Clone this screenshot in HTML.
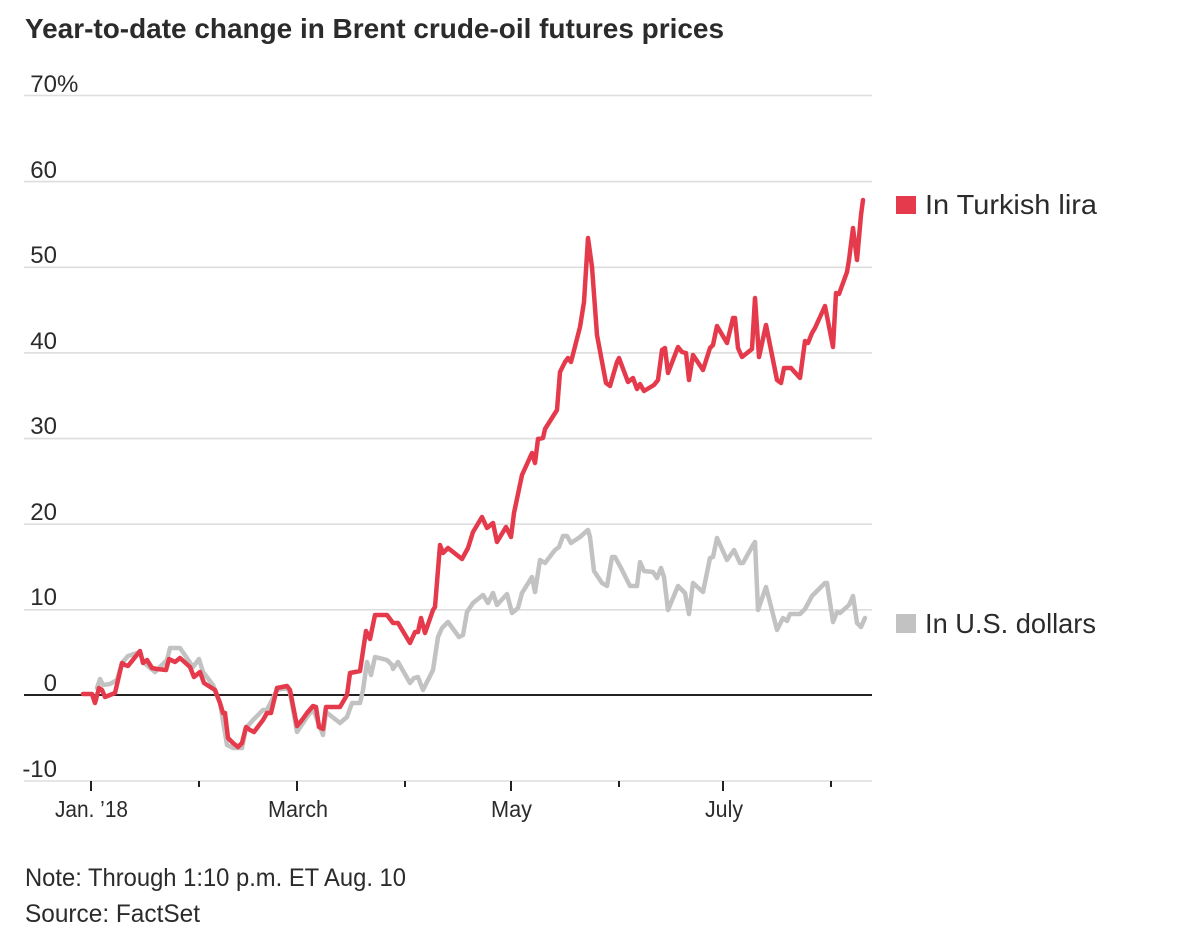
<!DOCTYPE html>
<html>
<head>
<meta charset="utf-8">
<style>
html,body{margin:0;padding:0;background:#fff;}
svg{display:block;}
text{font-family:"Liberation Sans",sans-serif;fill:#2b2b2b;}
</style>
</head>
<body>
<svg width="1180" height="930" viewBox="0 0 1180 930" xmlns="http://www.w3.org/2000/svg">
<rect width="1180" height="930" fill="#fff"/>
<text x="25" y="38" font-size="28" font-weight="bold" textLength="699" lengthAdjust="spacingAndGlyphs">Year-to-date change in Brent crude-oil futures prices</text>

<!-- gridlines -->
<g stroke="#dedede" stroke-width="1.6">
<line x1="24" y1="95.5" x2="872" y2="95.5"/>
<line x1="24" y1="181.6" x2="872" y2="181.6"/>
<line x1="24" y1="267.3" x2="872" y2="267.3"/>
<line x1="24" y1="352.9" x2="872" y2="352.9"/>
<line x1="24" y1="438.6" x2="872" y2="438.6"/>
<line x1="24" y1="524.2" x2="872" y2="524.2"/>
<line x1="24" y1="609.8" x2="872" y2="609.8"/>
<line x1="24" y1="781" x2="872" y2="781"/>
</g>
<line x1="24" y1="695" x2="872" y2="695" stroke="#222" stroke-width="2"/>

<!-- y labels -->
<g font-size="24" text-anchor="end">
<text x="57" y="92">70</text>
<text x="57" y="178">60</text>
<text x="57" y="263">50</text>
<text x="57" y="349">40</text>
<text x="57" y="434">30</text>
<text x="57" y="520">20</text>
<text x="57" y="605">10</text>
<text x="57" y="691">0</text>
<text x="57" y="777">-10</text>
</g>
<text x="57" y="92" font-size="24">%</text>

<!-- x ticks -->
<g stroke="#222" stroke-width="2">
<line x1="91" y1="781" x2="91" y2="791"/>
<line x1="199" y1="781" x2="199" y2="787"/>
<line x1="297" y1="781" x2="297" y2="791"/>
<line x1="405" y1="781" x2="405" y2="787"/>
<line x1="511" y1="781" x2="511" y2="791"/>
<line x1="619" y1="781" x2="619" y2="787"/>
<line x1="723" y1="781" x2="723" y2="791"/>
<line x1="831" y1="781" x2="831" y2="787"/>
</g>
<g font-size="23" text-anchor="middle">
<text x="91.5" y="817" textLength="73" lengthAdjust="spacingAndGlyphs">Jan. ’18</text>
<text x="298" y="817" textLength="60" lengthAdjust="spacingAndGlyphs">March</text>
<text x="511.5" y="817" textLength="41" lengthAdjust="spacingAndGlyphs">May</text>
<text x="724" y="817" textLength="38" lengthAdjust="spacingAndGlyphs">July</text>
</g>

<!-- gray series -->
<polyline fill="none" stroke="#c2c2c2" stroke-width="4.5" stroke-linejoin="round" stroke-linecap="round" points="97,688 100,679 103,685 110,684 117,680 122,663 128,656 140,652 143,662 155,672 167,660 170,648 180,648 193,667 199,659 203,672 213,685 220,703 227,745 233,748 242,748 246,728 253,720 263,710 267,710 277,690 287,688 290,693 297,732 307,717 313,709 323,735 326,712 340,723 347,717 352,703 360,703 363,690 367,662 371,675 375,657 387,660 392,665 393,669 398,662 410,683 414,678 418,677 423,690 433,670 438,637 442,628 448,622 459,637 463,635 467,612 473,603 483,595 488,603 493,593 497,605 507,594 512,613 518,608 522,593 532,577 535,592 540,560 545,563 555,550 559,547 563,536 567,536 571,543 580,537 588,530 590,537 594,571 602,583 607,586 612,557 615,557 621,568 630,586 637,586 640,562 644,571 653,572 657,578 661,568 664,577 668,610 678,586 685,593 689,614 693,583 703,592 710,558 713,557 717,538 727,560 734,550 740,563 743,563 753,545 755,542 758,610 766,587 777,630 783,618 787,621 790,614 800,614 805,609 812,596 825,583 827,583 833,622 837,612 840,613 849,605 853,596 857,623 861,627 865,618"/>

<!-- red series -->
<polyline fill="none" stroke="#e53a4b" stroke-width="4.5" stroke-linejoin="round" stroke-linecap="round" points="83,694 92,694 95,703 99,688 102,690 105,697 115,693 122,663 125,665 128,666 140,651 143,663 147,660 152,668 157,669 166,670 169,659 175,662 180,658 190,667 194,677 200,672 204,683 215,690 220,703 223,713 225,713 228,738 233,743 238,747 242,743 246,727 250,730 254,732 263,720 267,713 271,713 277,688 287,686 290,690 297,726 302,720 307,713 313,706 316,707 319,727 323,729 326,707 340,707 347,695 350,673 360,671 366,631 370,639 375,615 387,615 393,623 398,623 410,643 415,632 418,632 421,618 425,633 433,610 435,607 440,545 443,553 448,548 462,559 468,548 473,532 482,517 487,528 493,523 497,542 506,527 511,537 514,513 522,475 532,453 535,463 538,439 543,438 545,429 557,410 560,372 565,362 568,358 571,362 580,327 584,302 588,238 592,267 597,335 606,383 610,386 617,362 619,358 628,382 633,378 637,389 640,384 644,391 654,385 658,380 662,350 665,348 668,373 678,347 682,352 686,353 689,380 693,355 703,370 710,348 713,345 717,326 727,343 733,318 735,318 738,348 742,357 752,349 755,298 759,357 766,325 777,380 781,383 784,368 791,368 800,378 805,341 808,343 812,333 815,328 825,306 833,347 836,293 839,294 847,272 849,260 853,228 857,260 861,215 863,200"/>

<!-- legend -->
<rect x="896" y="196" width="20" height="18" fill="#e53a4b"/>
<text x="925" y="214" font-size="28" textLength="172" lengthAdjust="spacingAndGlyphs">In Turkish lira</text>
<rect x="896" y="614" width="20" height="19" fill="#c2c2c2"/>
<text x="925" y="633" font-size="28" textLength="171" lengthAdjust="spacingAndGlyphs">In U.S. dollars</text>

<!-- notes -->
<text x="25" y="886" font-size="25" textLength="381" lengthAdjust="spacingAndGlyphs">Note: Through 1:10 p.m. ET Aug. 10</text>
<text x="25" y="922" font-size="25" textLength="175" lengthAdjust="spacingAndGlyphs">Source: FactSet</text>
</svg>
</body>
</html>
